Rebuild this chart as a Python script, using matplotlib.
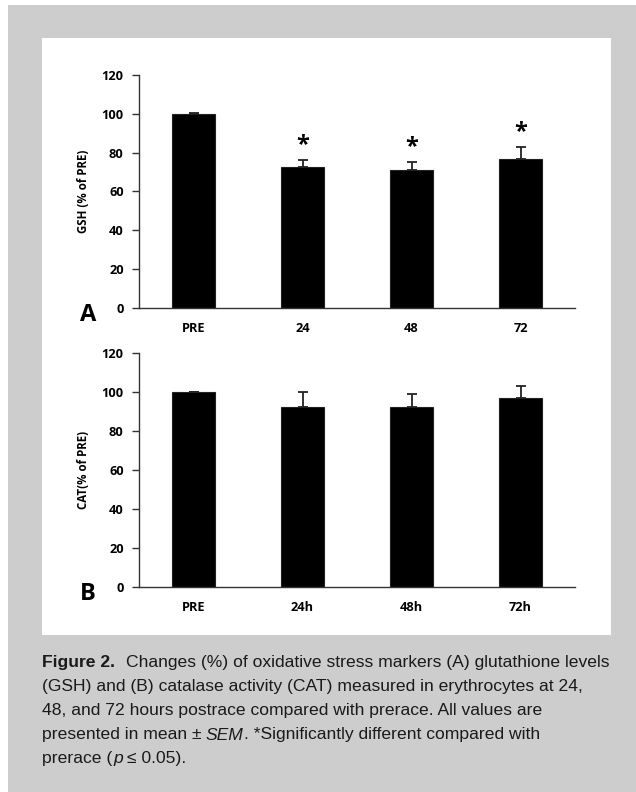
import matplotlib
matplotlib.use("Agg")
import numpy as np
from matplotlib import pyplot as plt
from matplotlib.patches import Rectangle
from matplotlib.transforms import IdentityTransform

# panel A: glutathione
gsh_labels = ["PRE", "24", "48", "72"]
gsh_mean = [100, 72.8, 71, 76.8]
gsh_sem = [0.3, 3.5, 4.4, 6.0]
gsh_sig = [False, True, True, True]

# panel B: catalase
cat_labels = ["PRE", "24h", "48h", "72h"]
cat_mean = [100, 92.6, 92.6, 96.9]
cat_sem = [0, 7.4, 6.4, 6.3]

yticks = [0, 20, 40, 60, 80, 100, 120]

chart_font = "Open Sans"
caption_font = ["Liberation Sans", "DejaVu Sans"]

W, H = 636, 792
fig = plt.figure(figsize=(W / 100, H / 100), dpi=100)
fig.patch.set_facecolor("white")

# grey page and white figure panel
fig.patches.append(Rectangle((8 / W, 0), 1, 1 - 5 / H, transform=fig.transFigure,
                             facecolor="#cdcdcd", edgecolor="none", zorder=-10))
fig.patches.append(Rectangle((42 / W, 1 - 635 / H), (611 - 42) / W, (635 - 38) / H,
                             transform=fig.transFigure, facecolor="white",
                             edgecolor="none", zorder=-9))


def bar_panel(rect, labels, means, sems, ylabel, letter, sig=None):
    ax = fig.add_axes(rect)
    ax.set_facecolor("none")
    x = np.arange(len(labels))
    ax.bar(x, means, width=0.4, color="black", edgecolor="#222222", linewidth=0.8, zorder=2)
    ax.errorbar(x, means, yerr=[np.zeros(len(sems)), sems], fmt="none",
                ecolor="#222222", elinewidth=1.3, capsize=3.5, capthick=1.3, zorder=1)
    if sig is not None:
        for xi, m, s, flag in zip(x, means, sems, sig):
            if flag:
                ax.annotate("*", (xi, m + s), xytext=(0, 2), textcoords="offset points",
                            ha="center", va="bottom", fontsize=17, fontweight="bold",
                            family=chart_font)
    ax.set_xlim(-0.5, len(labels) - 0.5)
    ax.set_ylim(0, 120)
    ax.set_yticks(yticks)
    ax.set_xticks(x)
    ax.set_xticklabels(labels)
    for side in ["top", "right"]:
        ax.spines[side].set_visible(False)
    for side in ["left", "bottom"]:
        ax.spines[side].set_color("#333333")
        ax.spines[side].set_linewidth(1.0)
    ax.tick_params(axis="y", length=5, width=1.0, color="#333333", pad=6)
    ax.tick_params(axis="x", length=0, pad=10)
    for lab in ax.get_xticklabels() + ax.get_yticklabels():
        lab.set_fontsize(9.2)
        lab.set_fontweight("bold")
        lab.set_family(chart_font)
    ax.set_ylabel(ylabel, fontsize=8.3, fontweight="bold", family=chart_font, labelpad=8)
    ax.text(-0.117, -0.03, letter, transform=ax.transAxes, fontsize=17, fontweight="bold",
            family=chart_font, ha="center", va="center")
    return ax


bar_panel([139 / W, 1 - 308 / H, (575 - 139) / W, (308 - 75) / H],
          gsh_labels, gsh_mean, gsh_sem, "GSH (% of PRE)", "A", gsh_sig)
bar_panel([139 / W, 1 - 586.7 / H, (575 - 139) / W, (586.7 - 353.3) / H],
          cat_labels, cat_mean, cat_sem, "CAT(% of PRE)", "B")

# caption, written run by run so bold / italic pieces line up
renderer = fig.canvas.get_renderer()
cap_size = 12.6
cap_color = "#1a1a1a"
caption_lines = [
    [("Figure 2.", "bold", "normal"), ("   Changes (%) of oxidative stress markers (A) glutathione levels", "normal", "normal")],
    [("(GSH) and (B) catalase activity (CAT) measured in erythrocytes at 24,", "normal", "normal")],
    [("48, and 72 hours postrace compared with prerace. All values are", "normal", "normal")],
    [("presented in mean \u00b1 ", "normal", "normal"), ("SEM", "normal", "italic"),
     (". *Significantly different compared with", "normal", "normal")],
    [("prerace (", "normal", "normal"), ("p", "normal", "italic"), (" \u2264 0.05).", "normal", "normal")],
]
line_y = [663, 687, 711, 735, 758]

for runs, yy in zip(caption_lines, line_y):
    xx = 42
    for s, weight, style in runs:
        lead = len(s) - len(s.lstrip(" "))
        trail = len(s) - len(s.rstrip(" "))
        xx += lead * 3.5
        t = fig.text(xx, H - yy, s.strip(" "), transform=IdentityTransform(),
                     fontsize=cap_size, fontweight=weight, fontstyle=style,
                     family=caption_font, color=cap_color, va="center", ha="left")
        xx = t.get_window_extent(renderer).x1 + trail * 3.5 + 0.8

fig.savefig("out.png", dpi=100)
